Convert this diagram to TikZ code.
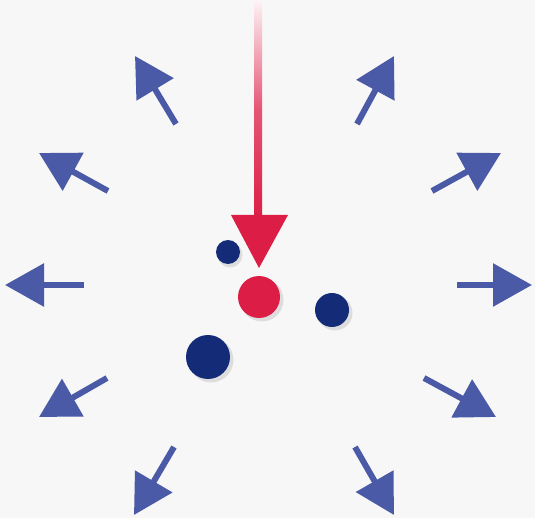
\documentclass[tikz,border=0pt]{standalone}
\usetikzlibrary{arrows.meta}
\definecolor{bg}{HTML}{F7F7F7}
\definecolor{arrblue}{HTML}{4B5AA6}
\definecolor{navy}{HTML}{142C78}
\definecolor{crim}{HTML}{DC1E46}
\begin{document}
\begin{tikzpicture}[x=1pt,y=-1pt,
  outarrow/.style={draw=arrblue,line width=6pt,-{Triangle[length=39pt,width=42pt,fill=arrblue]}},
  ball/.style={circle,inner sep=0pt,draw=none},
  shadow/.style={fill=black,opacity=0.10}]
\fill[bg] (0,0) rectangle (535,518);
\useasboundingbox (0,0) rectangle (535,518);
% outward arrows
\coordinate (t1) at (176,124); \coordinate (h1) at (135,56);
\coordinate (t2) at (357,124); \coordinate (h2) at (394,56);
\coordinate (t3) at (108,191); \coordinate (h3) at (39,153);
\coordinate (t4) at (432,191); \coordinate (h4) at (501,153);
\coordinate (t5) at (84,285); \coordinate (h5) at (5,285);
\coordinate (t6) at (457,285); \coordinate (h6) at (532,285);
\coordinate (t7) at (107,378); \coordinate (h7) at (39,417);
\coordinate (t8) at (424,378); \coordinate (h8) at (496,417);
\coordinate (t9) at (174,447); \coordinate (h9) at (134,515);
\coordinate (t10) at (355,447); \coordinate (h10) at (394,515);
\foreach \i in {1,...,10} \draw[outarrow] (t\i) -- (h\i);
% red arrow
\shade[top color=crim!5,bottom color=crim,middle color=crim!75] (254,0) rectangle (262,218);
\coordinate (rl) at (231,215); \coordinate (rr) at (288,215); \coordinate (rt) at (259,268);
\fill[crim] (rl) -- (rr) -- (rt) -- cycle;
% balls
\fill[shadow] (230,255) circle (12.5);
\fill[shadow] (262,300) circle (21.5);
\fill[shadow] (335,313) circle (17.5);
\fill[shadow] (211,360) circle (22.5);
\node[ball,fill=navy,minimum size=24pt] (b1) at (228,252) {};
\node[ball,fill=crim,minimum size=42pt] (b2) at (259,297) {};
\node[ball,fill=navy,minimum size=34pt] (b3) at (332,310) {};
\node[ball,fill=navy,minimum size=44pt] (b4) at (208,357) {};
\end{tikzpicture}
\end{document}
